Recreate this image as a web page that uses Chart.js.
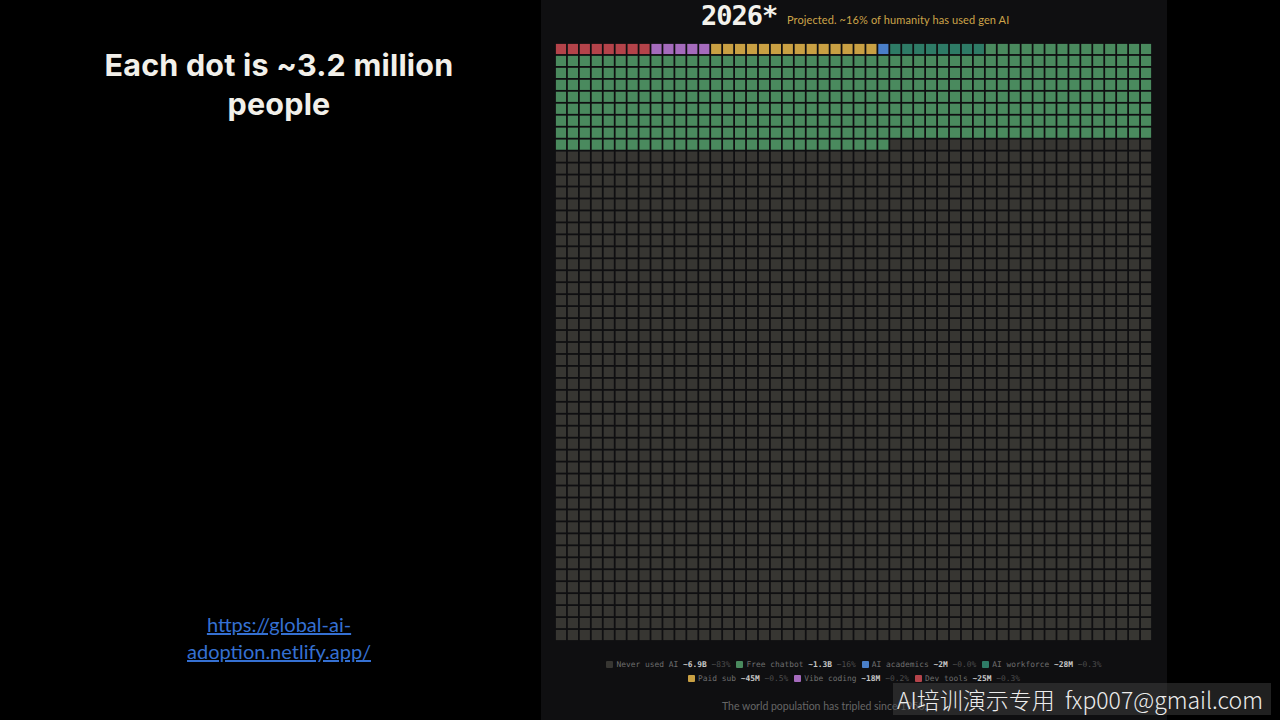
<!DOCTYPE html>
<html>
<head>
<meta charset="utf-8">
<script src="https://cdn.jsdelivr.net/npm/chart.js@4.4.1/dist/chart.umd.min.js"></script>
<style>
  html, body { margin: 0; padding: 0; background: #000; width: 1280px; height: 720px; overflow: hidden; }
  body { position: relative; font-family: 'Lato', 'Noto Sans', sans-serif; }
  .headline { position: absolute; left: 30px; width: 498px; top: 45px; text-align: center; color: #f2f0ea; font: 700 30.5px/39px 'Inter', 'Lato', sans-serif; letter-spacing: 0.2px; }
  .link { position: absolute; left: 140px; width: 278px; top: 611px; text-align: center; color: #3570d2; font: 20px/27px 'Lato', sans-serif; text-decoration: underline; }
  .panel { position: absolute; left: 541px; top: 0; width: 626px; height: 720px; background: #0f0f11; }
  .year { position: absolute; left: 701px; top: 1px; color: #f4f2ec; font: 700 27px/30px 'DejaVu Sans Mono', monospace; letter-spacing: -1px; }
  .sub { position: absolute; left: 787px; top: 13px; color: #cda449; font: 11px/14px 'Lato', sans-serif; letter-spacing: 0.1px; }
  #wrap { position: absolute; left: 555px; top: 43px; width: 597px; height: 598px; }
  .legend { position: absolute; left: 552px; width: 604px; top: 658px; text-align: center; color: #6e6e6e; font: 7.9px/14px 'DejaVu Sans Mono', monospace; }
  .legend .it { display: inline-block; margin: 0 3px; }
  .legend .sw { display: inline-block; width: 7px; height: 7px; margin-right: 3px; vertical-align: -1px; border-radius: 1px; }
  .legend b { color: #c8c8c8; }
  .legend i { font-style: normal; color: #4e4e4e; }
  .foot { position: absolute; left: 722px; top: 699px; color: #666; font: 10.5px/14px 'Lato', sans-serif; white-space: nowrap; }
  .mark { position: absolute; left: 893px; top: 683px; width: 378px; height: 32px; background: rgba(70,70,70,0.45); color: #ececec; font: 300 23px/32px 'Noto Sans CJK SC', 'Noto Sans', sans-serif; padding-left: 4px; box-sizing: border-box; white-space: nowrap; }
</style>
</head>
<body>
<div class="headline">Each dot is ~3.2 million<br>people</div>
<div class="link">https://global-ai-<br>adoption.netlify.app/</div>
<div class="panel"></div>
<div class="year">2026*</div>
<div class="sub">Projected. ~16% of humanity has used gen AI</div>
<div id="wrap"><canvas id="waffle"></canvas></div>
<div class="legend" id="legend"></div>
<div class="foot">The world population has tripled since 1950.</div>
<div class="mark">AI培训演示专用&nbsp; fxp007@gmail.com</div>
<script>
// fill order of the waffle (row by row from the top left)
const categories = ['Dev tools', 'Vibe coding', 'Paid sub', 'AI academics', 'AI workforce', 'Free chatbot', 'Never used AI'];
const dotCounts = [8, 5, 14, 1, 8, 392, 2072];
const dotColors = ['#b4434a', '#a56bbd', '#c9a043', '#4a7fc9', '#2e7b66', '#4a8a5e', '#373632'];

// legend text, in the order it is shown
const legendOrder = ['Never used AI', 'Free chatbot', 'AI academics', 'AI workforce', 'Paid sub', 'Vibe coding', 'Dev tools'];
const legendTotals = ['~6.9B', '~1.3B', '~2M', '~28M', '~45M', '~18M', '~25M'];
const legendShares = ['~83%', '~16%', '~0.0%', '~0.3%', '~0.5%', '~0.2%', '~0.3%'];

const gridCols = 50;
const gridRows = 50;

// turn counts into grid cells
let idx = 0;
const datasets = categories.map((name, i) => {
  const pts = [];
  for (let k = 0; k < dotCounts[i]; k++) {
    pts.push({ x: idx % gridCols, y: Math.floor(idx / gridCols) });
    idx++;
  }
  return {
    label: name,
    data: pts,
    pointStyle: 'rect',
    pointRadius: 7.2,
    pointBorderWidth: 0,
    backgroundColor: dotColors[i],
    borderColor: dotColors[i]
  };
});

new Chart(document.getElementById('waffle'), {
  type: 'scatter',
  data: { datasets },
  options: {
    responsive: true,
    maintainAspectRatio: false,
    animation: false,
    events: [],
    layout: { padding: 0, autoPadding: false },
    plugins: { legend: { display: false }, tooltip: { enabled: false } },
    scales: {
      x: { display: false, min: -0.5, max: gridCols - 0.5 },
      y: { display: false, min: -0.5, max: gridRows - 0.5, reverse: true }
    }
  }
});

// html legend
const legendEl = document.getElementById('legend');
legendOrder.forEach((name, i) => {
  const c = dotColors[categories.indexOf(name)];
  const span = document.createElement('span');
  span.className = 'it';
  span.innerHTML = `<span class="sw" style="background:${c}"></span>${name} <b>${legendTotals[i]}</b> <i>${legendShares[i]}</i>`;
  legendEl.appendChild(span);
  if (i === 3) legendEl.appendChild(document.createElement('br'));
});
</script>
</body>
</html>
